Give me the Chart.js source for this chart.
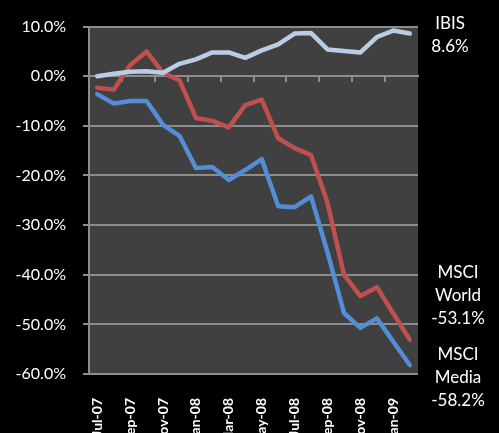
<!DOCTYPE html>
<html>
<head>
<meta charset="utf-8">
<script src="https://cdn.jsdelivr.net/npm/chart.js@4/dist/chart.umd.min.js"></script>
<style>
  html, body { margin: 0; padding: 0; background: #000; overflow: hidden; }
  #wrap { position: relative; width: 499px; height: 433px; }
  .note {
    position: absolute; color: #fff; font-family: Lato, sans-serif;
    font-size: 17px; line-height: 23px; text-align: center; width: 80px;
  }
</style>
</head>
<body>
<div id="wrap">
  <canvas id="chart"></canvas>
  <div class="note" style="left:410px; top:11px;">IBIS<br>8.6%</div>
  <div class="note" style="left:418px; top:260px;">MSCI<br>World<br>-53.1%</div>
  <div class="note" style="left:418px; top:342px;">MSCI<br>Media<br>-58.2%</div>
</div>
<script>
// monthly, Jul-07 .. Feb-09 (cumulative % change)
const months = ["Jul-07", "Aug-07", "Sep-07", "Oct-07", "Nov-07", "Dec-07", "Jan-08", "Feb-08",
  "Mar-08", "Apr-08", "May-08", "Jun-08", "Jul-08", "Aug-08", "Sep-08", "Oct-08",
  "Nov-08", "Dec-08", "Jan-09", "Feb-09"];
const ibis = [0.0, 0.5, 0.9, 1.0, 0.7, 2.5, 3.4, 4.8, 4.8, 3.7, 5.2, 6.4, 8.6, 8.7, 5.4, 5.1, 4.8, 7.9, 9.2, 8.6];
const msciWorld = [-2.3, -2.7, 2.2, 5.0, 0.7, -0.8, -8.4, -9.0, -10.3, -5.8, -4.7, -12.5, -14.5, -15.9, -25.5, -40.0, -44.3, -42.5, -47.8, -53.1];
const msciMedia = [-3.6, -5.5, -5.0, -5.0, -9.8, -12.0, -18.5, -18.3, -20.9, -18.9, -16.7, -26.2, -26.4, -24.2, -35.5, -47.7, -50.7, -48.8, -53.5, -58.2];
const yTicks = [-60, -50, -40, -30, -20, -10, 0, 10];

const gridGray = "#8c8c8c";

// dark grey plot area
const plotBg = {
    id: "plotBg",
    beforeDraw(chart) {
        const a = chart.chartArea;
        const ctx = chart.ctx;
        ctx.save();
        ctx.fillStyle = "#404040";
        ctx.fillRect(a.left, a.top, a.right - a.left, a.bottom - a.top);
        ctx.restore();
    }
};

function line(label, data, color) {
    return {
        label: label,
        data: data,
        borderColor: color,
        backgroundColor: color,
        borderWidth: 4.5,
        pointRadius: 0,
        tension: 0,
        borderJoinStyle: "round",
        borderCapStyle: "round"
    };
}

new Chart(document.getElementById("chart"), {
    type: "line",
    data: {
        labels: months,
        datasets: [
            line("IBIS", ibis, "#b9cde5"),
            line("MSCI World", msciWorld, "#c0504d"),
            line("MSCI Media", msciMedia, "#538dd5")
        ]
    },
    options: {
        responsive: true,
        maintainAspectRatio: false,
        animation: false,
        layout: { padding: { top: 26, right: 81, left: 0, bottom: 0 } },
        plugins: { legend: { display: false }, tooltip: { enabled: false } },
        scales: {
            x: {
                type: "category",
                position: "bottom",
                offset: true,
                grid: { display: false, drawTicks: false },
                border: { display: false },
                ticks: {
                    autoSkip: false,
                    minRotation: 90,
                    maxRotation: 90,
                    padding: 24,
                    color: "#fff",
                    font: { family: "Lato", size: 14, weight: "bold" },
                    callback: (v, i) => (i % 2 === 0 ? months[i] : "")
                },
                afterFit: s => { s.height = 59; }
            },
            x2: {
                type: "category",
                axis: "x",
                position: { y: 0 },
                offset: true,
                grid: {
                    offset: true,
                    drawOnChartArea: false,
                    tickLength: 5,
                    lineWidth: 2,
                    color: c => (c.index % 2 === 0 ? gridGray : "rgba(0,0,0,0)")
                },
                border: { display: true, color: gridGray, width: 2 },
                ticks: { display: false }
            },
            y: {
                min: -60,
                max: 10,
                afterBuildTicks: s => { s.ticks = yTicks.map(v => ({ value: v })); },
                grid: { color: gridGray, lineWidth: 2, tickLength: 6 },
                border: { display: true, color: gridGray, width: 2 },
                ticks: {
                    padding: 17,
                    color: "#fff",
                    font: { family: "Lato", size: 16 },
                    callback: v => v.toFixed(1) + "%"
                },
                afterFit: s => { s.width = 89; }
            }
        }
    },
    plugins: [plotBg]
});
</script>
</body>
</html>
